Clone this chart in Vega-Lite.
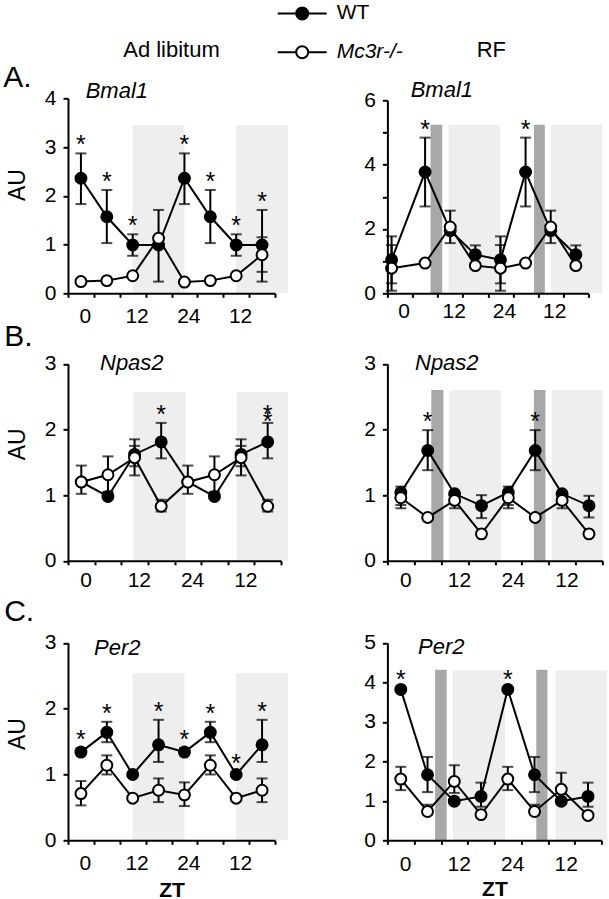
{
  "$schema": "https://vega.github.io/schema/vega-lite/v6.json",
  "padding": {"left": 2, "top": 2.3, "right": 0, "bottom": 0},
  "background": "white",
  "config": {
    "view": {"stroke": null},
    "font": "Liberation Sans",
    "axis": {"grid": false, "domainColor": "black", "domainWidth": 2, "tickColor": "black", "tickWidth": 2, "labelColor": "black", "labelFont": "Liberation Sans", "labelFontSize": 21, "titleColor": "black", "titleFont": "Liberation Sans", "titleFontWeight": "normal", "labelFlush": false, "labelOverlap": false, "labelBound": false, "zindex": 1},
    "axisX": {"tickSize": 4},
    "axisY": {"tickSize": 5, "labelPadding": 7},
    "legend": {"orient": "none", "legendX": 209.7, "legendY": -40.3, "direction": "vertical", "symbolType": "M-4.9,0H-1.2M1.2,0H4.9M-1.2,0A1.2,1.2,0,1,1,1.2,0A1.2,1.2,0,1,1,-1.2,0Z", "symbolSize": 100, "symbolOffset": 14, "symbolStrokeColor": "black", "symbolStrokeWidth": 2, "symbolOpacity": 1, "labelFont": "Liberation Sans", "labelFontSize": 21, "labelColor": "black", "labelOffset": 24, "rowPadding": 16.8, "padding": 0},
    "title": {"font": "Liberation Sans", "color": "black", "fontWeight": "normal"}
  },
  "datasets": {
    "expr": [
      {"panel":"AL","series":"WT","zt":0,"mean":2.36,"lo":1.83,"hi":2.87,"sig":1},
      {"panel":"AL","series":"WT","zt":6,"mean":1.57,"lo":1.03,"hi":2.12,"sig":1},
      {"panel":"AL","series":"WT","zt":12,"mean":0.99,"lo":0.77,"hi":1.21,"sig":1},
      {"panel":"AL","series":"WT","zt":18,"mean":0.99,"lo":0.24,"hi":1.71},
      {"panel":"AL","series":"WT","zt":24,"mean":2.36,"lo":1.83,"hi":2.87,"sig":1},
      {"panel":"AL","series":"WT","zt":30,"mean":1.57,"lo":1.03,"hi":2.12,"sig":1},
      {"panel":"AL","series":"WT","zt":36,"mean":0.99,"lo":0.77,"hi":1.21,"sig":1},
      {"panel":"AL","series":"WT","zt":42,"mean":0.99,"lo":0.24,"hi":1.71,"sig":1},
      {"panel":"AL","series":"Mc3r-/-","zt":0,"mean":0.24},
      {"panel":"AL","series":"Mc3r-/-","zt":6,"mean":0.26},
      {"panel":"AL","series":"Mc3r-/-","zt":12,"mean":0.36},
      {"panel":"AL","series":"Mc3r-/-","zt":18,"mean":1.13},
      {"panel":"AL","series":"Mc3r-/-","zt":24,"mean":0.23},
      {"panel":"AL","series":"Mc3r-/-","zt":30,"mean":0.26},
      {"panel":"AL","series":"Mc3r-/-","zt":36,"mean":0.36},
      {"panel":"AL","series":"Mc3r-/-","zt":42,"mean":0.79,"lo":0.44,"hi":1.15},

      {"panel":"AR","series":"WT","zt":-2,"mean":1.04,"lo":0.31,"hi":1.77},
      {"panel":"AR","series":"WT","zt":6,"mean":3.77,"lo":2.70,"hi":4.84,"sig":1},
      {"panel":"AR","series":"WT","zt":12,"mean":1.95,"lo":1.56,"hi":2.57},
      {"panel":"AR","series":"WT","zt":18,"mean":1.20,"lo":0.88,"hi":1.49},
      {"panel":"AR","series":"WT","zt":24,"mean":1.04,"lo":0.31,"hi":1.77},
      {"panel":"AR","series":"WT","zt":30,"mean":3.77,"lo":2.70,"hi":4.84,"sig":1},
      {"panel":"AR","series":"WT","zt":36,"mean":1.95,"lo":1.56,"hi":2.57},
      {"panel":"AR","series":"WT","zt":42,"mean":1.20,"lo":0.88,"hi":1.49},
      {"panel":"AR","series":"Mc3r-/-","zt":-2,"mean":0.78,"lo":0.08,"hi":1.50},
      {"panel":"AR","series":"Mc3r-/-","zt":6,"mean":0.94},
      {"panel":"AR","series":"Mc3r-/-","zt":12,"mean":2.06},
      {"panel":"AR","series":"Mc3r-/-","zt":18,"mean":0.86},
      {"panel":"AR","series":"Mc3r-/-","zt":24,"mean":0.78,"lo":0.08,"hi":1.50},
      {"panel":"AR","series":"Mc3r-/-","zt":30,"mean":0.94},
      {"panel":"AR","series":"Mc3r-/-","zt":36,"mean":2.06},
      {"panel":"AR","series":"Mc3r-/-","zt":42,"mean":0.86},

      {"panel":"BL","series":"WT","zt":0,"mean":1.20},
      {"panel":"BL","series":"WT","zt":6,"mean":0.98},
      {"panel":"BL","series":"WT","zt":12,"mean":1.62,"lo":1.44,"hi":1.85},
      {"panel":"BL","series":"WT","zt":18,"mean":1.81,"lo":1.56,"hi":2.10,"sig":1},
      {"panel":"BL","series":"WT","zt":24,"mean":1.20},
      {"panel":"BL","series":"WT","zt":30,"mean":0.98},
      {"panel":"BL","series":"WT","zt":36,"mean":1.62,"lo":1.44,"hi":1.85},
      {"panel":"BL","series":"WT","zt":42,"mean":1.81,"lo":1.56,"hi":2.10,"sig":2},
      {"panel":"BL","series":"Mc3r-/-","zt":0,"mean":1.20,"lo":1.02,"hi":1.45},
      {"panel":"BL","series":"Mc3r-/-","zt":6,"mean":1.31,"lo":1.05,"hi":1.59},
      {"panel":"BL","series":"Mc3r-/-","zt":12,"mean":1.57,"lo":1.30,"hi":1.75},
      {"panel":"BL","series":"Mc3r-/-","zt":18,"mean":0.83,"lo":0.75,"hi":0.93},
      {"panel":"BL","series":"Mc3r-/-","zt":24,"mean":1.20,"lo":1.02,"hi":1.45},
      {"panel":"BL","series":"Mc3r-/-","zt":30,"mean":1.31,"lo":1.05,"hi":1.59},
      {"panel":"BL","series":"Mc3r-/-","zt":36,"mean":1.57,"lo":1.30,"hi":1.75},
      {"panel":"BL","series":"Mc3r-/-","zt":42,"mean":0.83,"lo":0.75,"hi":0.93},

      {"panel":"BR","series":"WT","zt":0,"mean":1.04,"lo":0.85,"hi":1.13},
      {"panel":"BR","series":"WT","zt":6,"mean":1.68,"lo":1.38,"hi":1.99,"sig":1},
      {"panel":"BR","series":"WT","zt":12,"mean":1.02},
      {"panel":"BR","series":"WT","zt":18,"mean":0.84,"lo":0.65,"hi":1.00},
      {"panel":"BR","series":"WT","zt":24,"mean":1.04,"lo":0.85,"hi":1.13},
      {"panel":"BR","series":"WT","zt":30,"mean":1.68,"lo":1.38,"hi":1.99,"sig":1},
      {"panel":"BR","series":"WT","zt":36,"mean":1.02},
      {"panel":"BR","series":"WT","zt":42,"mean":0.84,"lo":0.66,"hi":0.99},
      {"panel":"BR","series":"Mc3r-/-","zt":0,"mean":0.96,"lo":0.80,"hi":1.08},
      {"panel":"BR","series":"Mc3r-/-","zt":6,"mean":0.66},
      {"panel":"BR","series":"Mc3r-/-","zt":12,"mean":0.92,"lo":0.80,"hi":1.00},
      {"panel":"BR","series":"Mc3r-/-","zt":18,"mean":0.41},
      {"panel":"BR","series":"Mc3r-/-","zt":24,"mean":0.96,"lo":0.80,"hi":1.08},
      {"panel":"BR","series":"Mc3r-/-","zt":30,"mean":0.66},
      {"panel":"BR","series":"Mc3r-/-","zt":36,"mean":0.92,"lo":0.80,"hi":1.00},
      {"panel":"BR","series":"Mc3r-/-","zt":42,"mean":0.41},

      {"panel":"CL","series":"WT","zt":0,"mean":1.34,"lo":1.30,"hi":1.40,"sig":1},
      {"panel":"CL","series":"WT","zt":6,"mean":1.64,"lo":1.49,"hi":1.80,"sig":1},
      {"panel":"CL","series":"WT","zt":12,"mean":1.00},
      {"panel":"CL","series":"WT","zt":18,"mean":1.45,"lo":1.19,"hi":1.83,"sig":1},
      {"panel":"CL","series":"WT","zt":24,"mean":1.34,"lo":1.30,"hi":1.40,"sig":1},
      {"panel":"CL","series":"WT","zt":30,"mean":1.64,"lo":1.49,"hi":1.80,"sig":1},
      {"panel":"CL","series":"WT","zt":36,"mean":1.00,"lo":0.97,"hi":1.03,"sig":1},
      {"panel":"CL","series":"WT","zt":42,"mean":1.45,"lo":1.19,"hi":1.83,"sig":1},
      {"panel":"CL","series":"Mc3r-/-","zt":0,"mean":0.71,"lo":0.53,"hi":0.90},
      {"panel":"CL","series":"Mc3r-/-","zt":6,"mean":1.14,"lo":1.00,"hi":1.29},
      {"panel":"CL","series":"Mc3r-/-","zt":12,"mean":0.64},
      {"panel":"CL","series":"Mc3r-/-","zt":18,"mean":0.76,"lo":0.58,"hi":0.94},
      {"panel":"CL","series":"Mc3r-/-","zt":24,"mean":0.69,"lo":0.52,"hi":0.88},
      {"panel":"CL","series":"Mc3r-/-","zt":30,"mean":1.14,"lo":1.00,"hi":1.29},
      {"panel":"CL","series":"Mc3r-/-","zt":36,"mean":0.64},
      {"panel":"CL","series":"Mc3r-/-","zt":42,"mean":0.76,"lo":0.58,"hi":0.94},

      {"panel":"CR","series":"WT","zt":0,"mean":3.82,"lo":3.80,"hi":3.85,"sig":1},
      {"panel":"CR","series":"WT","zt":6,"mean":1.66,"lo":1.22,"hi":2.11},
      {"panel":"CR","series":"WT","zt":12,"mean":0.99},
      {"panel":"CR","series":"WT","zt":18,"mean":1.11,"lo":0.85,"hi":1.46},
      {"panel":"CR","series":"WT","zt":24,"mean":3.82,"lo":3.80,"hi":3.85,"sig":1},
      {"panel":"CR","series":"WT","zt":30,"mean":1.66,"lo":1.22,"hi":2.11},
      {"panel":"CR","series":"WT","zt":36,"mean":0.99},
      {"panel":"CR","series":"WT","zt":42,"mean":1.11,"lo":0.85,"hi":1.46},
      {"panel":"CR","series":"Mc3r-/-","zt":0,"mean":1.55,"lo":1.27,"hi":1.86},
      {"panel":"CR","series":"Mc3r-/-","zt":6,"mean":0.73,"lo":0.65,"hi":0.90},
      {"panel":"CR","series":"Mc3r-/-","zt":12,"mean":1.49,"lo":1.20,"hi":1.90},
      {"panel":"CR","series":"Mc3r-/-","zt":18,"mean":0.65},
      {"panel":"CR","series":"Mc3r-/-","zt":24,"mean":1.55,"lo":1.27,"hi":1.86},
      {"panel":"CR","series":"Mc3r-/-","zt":30,"mean":0.73,"lo":0.65,"hi":0.90},
      {"panel":"CR","series":"Mc3r-/-","zt":36,"mean":1.29,"lo":1.00,"hi":1.71},
      {"panel":"CR","series":"Mc3r-/-","zt":42,"mean":0.63}
    ],
    "bands": [
      {"panel":"AL","kind":"light","start":12,"end":24},
      {"panel":"AL","kind":"light","start":36,"end":48},
      {"panel":"AR","kind":"dark","start":7.3,"end":10.1},
      {"panel":"AR","kind":"light","start":11.6,"end":23.9},
      {"panel":"AR","kind":"dark","start":32.0,"end":34.6},
      {"panel":"AR","kind":"light","start":36.0,"end":48.3},
      {"panel":"BL","kind":"light","start":11.7,"end":23.5},
      {"panel":"BL","kind":"light","start":35.0,"end":46.6},
      {"panel":"BR","kind":"dark","start":6.8,"end":9.5},
      {"panel":"BR","kind":"light","start":10.8,"end":22.4},
      {"panel":"BR","kind":"dark","start":29.7,"end":32.3},
      {"panel":"BR","kind":"light","start":33.7,"end":45.0},
      {"panel":"CL","kind":"light","start":12,"end":24},
      {"panel":"CL","kind":"light","start":36,"end":48},
      {"panel":"CR","kind":"dark","start":7.7,"end":10.3},
      {"panel":"CR","kind":"light","start":11.7,"end":23.4},
      {"panel":"CR","kind":"dark","start":30.4,"end":32.9},
      {"panel":"CR","kind":"light","start":34.7,"end":46.3}
    ]
  },
  "concat": [
    {
      "width": 207, "height": 14.4,
      "data": {"values": [{"label": "Ad libitum"}]},
      "mark": {"type": "text", "font": "Liberation Sans", "fontSize": 22, "baseline": "middle", "align": "center", "color": "black"},
      "encoding": {"text": {"field": "label"}}
    },
    {
      "width": 201, "height": 14.4,
      "data": {"values": [{"label": "RF"}]},
      "mark": {"type": "text", "font": "Liberation Sans", "fontSize": 22, "baseline": "middle", "align": "center", "color": "black", "dx": 3.5},
      "encoding": {"text": {"field": "label"}}
    },
    {
      "width": 207, "height": 235,
      "title": {"text": "Bmal1", "anchor": "start", "frame": "group", "offset": 0, "dx": 17.7, "dy": 62, "baseline": "alphabetic", "font": "Liberation Sans", "fontSize": 22, "fontStyle": "italic", "fontWeight": "normal", "color": "black"},
      "resolve": {"axis": {"x": "independent", "y": "independent"}},
      "layer": [
        {"data": {"name": "bands"}, "transform": [{"filter": "datum.panel == 'AL' && datum.kind == 'light'"}],
         "mark": {"type": "rect", "color": "#eeeeee"},
         "encoding": {
           "x": {"field": "start", "type": "quantitative", "scale": {"domain": [-3, 45], "nice": false, "zero": false}, "axis": {"orient": "top", "title": "A.", "domain": false, "ticks": false, "labels": false, "titleX": -65.3, "titleY": 28, "titleAlign": "left", "titleBaseline": "alphabetic", "titleAngle": 0, "titleFontSize": 30, "titleFontWeight": "normal"}},
           "x2": {"field": "end"},
           "y": {"datum": 0, "type": "quantitative", "scale": {"domain": [0, 4], "range": [235, 40], "nice": false, "zero": false}, "axis": null},
           "y2": {"datum": 3.45}
         }},
        {"data": {"name": "expr"}, "transform": [{"filter": "datum.panel == 'AL'"}],
         "mark": {"type": "line", "color": "black", "strokeWidth": 2},
         "encoding": {
           "x": {"field": "zt", "type": "quantitative", "scale": {"domain": [-3, 45], "nice": false, "zero": false}, "axis": {"orient": "bottom", "zindex": 2, "values": [-3,3,9,15,21,27,33,39,45], "labelExpr": "datum.value == 3 ? '0' : datum.value == 15 ? '12' : datum.value == 27 ? '24' : datum.value == 39 ? '12' : ''", "labelOffset": -9, "labelPadding": 8.5, "title": null}},
           "y": {"field": "mean", "type": "quantitative", "scale": {"domain": [0, 4], "range": [235, 40], "nice": false, "zero": false}, "axis": {"orient": "left", "zindex": 2, "values": [0,1,2,3,4], "format": "d", "title": "AU", "titleFontSize": 23, "titlePadding": 15, "titleY": 126.3}},
           "detail": {"field": "series"}
         }},
        {"data": {"name": "expr"}, "transform": [{"filter": "datum.panel == 'AL' && isValid(datum.lo)"}],
         "mark": {"type": "rule", "color": "black", "strokeWidth": 2},
         "encoding": {
           "x": {"field": "zt", "type": "quantitative", "scale": {"domain": [-3, 45], "nice": false, "zero": false}, "axis": null},
           "y": {"field": "lo", "type": "quantitative", "scale": {"domain": [0, 4], "range": [235, 40], "nice": false, "zero": false}, "axis": null},
           "y2": {"field": "hi"}
         }},
        {"data": {"name": "expr"}, "transform": [{"filter": "datum.panel == 'AL' && isValid(datum.lo)"}],
         "mark": {"type": "tick", "orient": "horizontal", "size": 11, "thickness": 2, "color": "black"},
         "encoding": {
           "x": {"field": "zt", "type": "quantitative", "scale": {"domain": [-3, 45], "nice": false, "zero": false}, "axis": null},
           "y": {"field": "lo", "type": "quantitative", "scale": {"domain": [0, 4], "range": [235, 40], "nice": false, "zero": false}, "axis": null}
         }},
        {"data": {"name": "expr"}, "transform": [{"filter": "datum.panel == 'AL' && isValid(datum.hi)"}],
         "mark": {"type": "tick", "orient": "horizontal", "size": 11, "thickness": 2, "color": "black"},
         "encoding": {
           "x": {"field": "zt", "type": "quantitative", "scale": {"domain": [-3, 45], "nice": false, "zero": false}, "axis": null},
           "y": {"field": "hi", "type": "quantitative", "scale": {"domain": [0, 4], "range": [235, 40], "nice": false, "zero": false}, "axis": null}
         }},
        {"data": {"name": "expr"}, "transform": [{"filter": "datum.panel == 'AL'"}],
         "mark": {"type": "point", "shape": "circle", "filled": true, "size": 120, "stroke": "black", "strokeWidth": 2, "opacity": 1},
         "encoding": {
           "x": {"field": "zt", "type": "quantitative", "scale": {"domain": [-3, 45], "nice": false, "zero": false}, "axis": null},
           "y": {"field": "mean", "type": "quantitative", "scale": {"domain": [0, 4], "range": [235, 40], "nice": false, "zero": false}, "axis": null},
           "fill": {"field": "series", "type": "nominal", "scale": {"domain": ["WT", "Mc3r-/-"], "range": ["black", "white"]}, "legend": {"title": null, "rowPadding": 16.8, "labelFontStyle": {"expr": "datum.value == 'WT' ? 'normal' : 'italic'"}}}
         }},
        {"data": {"name": "expr"}, "transform": [{"filter": "datum.panel == 'AL' && datum.sig >= 1"}],
         "mark": {"type": "text", "text": "*", "font": "Liberation Sans", "fontSize": 25, "baseline": "alphabetic", "dy": 0, "color": "black"},
         "encoding": {
           "x": {"field": "zt", "type": "quantitative", "scale": {"domain": [-3, 45], "nice": false, "zero": false}, "axis": null},
           "y": {"field": "hi", "type": "quantitative", "scale": {"domain": [0, 4], "range": [235, 40], "nice": false, "zero": false}, "axis": null}
         }}
      ]
    },
    {
      "width": 201, "height": 235,
      "title": {"text": "Bmal1", "anchor": "start", "frame": "group", "offset": 0, "dx": 23.3, "dy": 60.7, "baseline": "alphabetic", "font": "Liberation Sans", "fontSize": 22, "fontStyle": "italic", "fontWeight": "normal", "color": "black"},
      "resolve": {"axis": {"x": "independent", "y": "independent"}},
      "layer": [
        {"data": {"name": "bands"}, "transform": [{"filter": "datum.panel == 'AR' && datum.kind == 'light'"}],
         "mark": {"type": "rect", "color": "#eeeeee"},
         "encoding": {
           "x": {"field": "start", "type": "quantitative", "scale": {"domain": [-3, 45], "nice": false, "zero": false}, "axis": null},
           "x2": {"field": "end"},
           "y": {"datum": 0, "type": "quantitative", "scale": {"domain": [0, 6], "range": [235, 42], "nice": false, "zero": false}, "axis": null},
           "y2": {"datum": 5.24}
         }},
        {"data": {"name": "bands"}, "transform": [{"filter": "datum.panel == 'AR' && datum.kind == 'dark'"}],
         "mark": {"type": "rect", "color": "#a8a8a8"},
         "encoding": {
           "x": {"field": "start", "type": "quantitative", "scale": {"domain": [-3, 45], "nice": false, "zero": false}, "axis": null},
           "x2": {"field": "end"},
           "y": {"datum": 0, "type": "quantitative", "scale": {"domain": [0, 6], "range": [235, 42], "nice": false, "zero": false}, "axis": null},
           "y2": {"datum": 5.24}
         }},
        {"data": {"name": "expr"}, "transform": [{"filter": "datum.panel == 'AR'"}],
         "mark": {"type": "line", "color": "black", "strokeWidth": 2},
         "encoding": {
           "x": {"field": "zt", "type": "quantitative", "scale": {"domain": [-3, 45], "nice": false, "zero": false}, "axis": {"orient": "bottom", "zindex": 2, "values": [-3,3,9,15,21,27,33,39,45], "labelExpr": "datum.value == 3 ? '0' : datum.value == 15 ? '12' : datum.value == 27 ? '24' : datum.value == 39 ? '12' : ''", "labelOffset": -9, "labelPadding": 3.5, "title": null}},
           "y": {"field": "mean", "type": "quantitative", "scale": {"domain": [0, 6], "range": [235, 42], "nice": false, "zero": false}, "axis": {"orient": "left", "zindex": 2, "values": [0,1,2,3,4,5,6], "format": "d", "labelExpr": "datum.value % 2 == 0 ? datum.label : ''", "title": null}},
           "detail": {"field": "series"}
         }},
        {"data": {"name": "expr"}, "transform": [{"filter": "datum.panel == 'AR' && isValid(datum.lo)"}],
         "mark": {"type": "rule", "color": "black", "strokeWidth": 2},
         "encoding": {
           "x": {"field": "zt", "type": "quantitative", "scale": {"domain": [-3, 45], "nice": false, "zero": false}, "axis": null},
           "y": {"field": "lo", "type": "quantitative", "scale": {"domain": [0, 6], "range": [235, 42], "nice": false, "zero": false}, "axis": null},
           "y2": {"field": "hi"}
         }},
        {"data": {"name": "expr"}, "transform": [{"filter": "datum.panel == 'AR' && isValid(datum.lo)"}],
         "mark": {"type": "tick", "orient": "horizontal", "size": 11, "thickness": 2, "color": "black"},
         "encoding": {
           "x": {"field": "zt", "type": "quantitative", "scale": {"domain": [-3, 45], "nice": false, "zero": false}, "axis": null},
           "y": {"field": "lo", "type": "quantitative", "scale": {"domain": [0, 6], "range": [235, 42], "nice": false, "zero": false}, "axis": null}
         }},
        {"data": {"name": "expr"}, "transform": [{"filter": "datum.panel == 'AR' && isValid(datum.hi)"}],
         "mark": {"type": "tick", "orient": "horizontal", "size": 11, "thickness": 2, "color": "black"},
         "encoding": {
           "x": {"field": "zt", "type": "quantitative", "scale": {"domain": [-3, 45], "nice": false, "zero": false}, "axis": null},
           "y": {"field": "hi", "type": "quantitative", "scale": {"domain": [0, 6], "range": [235, 42], "nice": false, "zero": false}, "axis": null}
         }},
        {"data": {"name": "expr"}, "transform": [{"filter": "datum.panel == 'AR'"}],
         "mark": {"type": "point", "shape": "circle", "filled": true, "size": 120, "stroke": "black", "strokeWidth": 2, "opacity": 1},
         "encoding": {
           "x": {"field": "zt", "type": "quantitative", "scale": {"domain": [-3, 45], "nice": false, "zero": false}, "axis": null},
           "y": {"field": "mean", "type": "quantitative", "scale": {"domain": [0, 6], "range": [235, 42], "nice": false, "zero": false}, "axis": null},
           "fill": {"field": "series", "type": "nominal", "scale": {"domain": ["WT", "Mc3r-/-"], "range": ["black", "white"]}, "legend": {"title": null, "rowPadding": 16.8, "labelFontStyle": {"expr": "datum.value == 'WT' ? 'normal' : 'italic'"}}}
         }},
        {"data": {"name": "expr"}, "transform": [{"filter": "datum.panel == 'AR' && datum.sig >= 1"}],
         "mark": {"type": "text", "text": "*", "font": "Liberation Sans", "fontSize": 25, "baseline": "alphabetic", "dy": 0, "color": "black"},
         "encoding": {
           "x": {"field": "zt", "type": "quantitative", "scale": {"domain": [-3, 45], "nice": false, "zero": false}, "axis": null},
           "y": {"field": "hi", "type": "quantitative", "scale": {"domain": [0, 6], "range": [235, 42], "nice": false, "zero": false}, "axis": null}
         }}
      ]
    },
    {
      "width": 213, "height": 267.5,
      "title": {"text": "Npas2", "anchor": "start", "frame": "group", "offset": 0, "dx": 32, "dy": 98.3, "baseline": "alphabetic", "font": "Liberation Sans", "fontSize": 22, "fontStyle": "italic", "fontWeight": "normal", "color": "black"},
      "resolve": {"axis": {"x": "independent", "y": "independent"}},
      "layer": [
        {"data": {"name": "bands"}, "transform": [{"filter": "datum.panel == 'BL' && datum.kind == 'light'"}],
         "mark": {"type": "rect", "color": "#eeeeee"},
         "encoding": {
           "x": {"field": "start", "type": "quantitative", "scale": {"domain": [-3, 45], "nice": false, "zero": false}, "axis": {"orient": "top", "title": "B.", "domain": false, "ticks": false, "labels": false, "titleX": -64.3, "titleY": 52.5, "titleAlign": "left", "titleBaseline": "alphabetic", "titleAngle": 0, "titleFontSize": 30, "titleFontWeight": "normal"}},
           "x2": {"field": "end"},
           "y": {"datum": 0, "type": "quantitative", "scale": {"domain": [0, 3], "range": [267.5, 70.5], "nice": false, "zero": false}, "axis": null},
           "y2": {"datum": 2.57}
         }},
        {"data": {"name": "expr"}, "transform": [{"filter": "datum.panel == 'BL'"}],
         "mark": {"type": "line", "color": "black", "strokeWidth": 2},
         "encoding": {
           "x": {"field": "zt", "type": "quantitative", "scale": {"domain": [-3, 45], "nice": false, "zero": false}, "axis": {"orient": "bottom", "zindex": 2, "values": [-3,3,9,15,21,27,33,39,45], "labelExpr": "datum.value == 3 ? '0' : datum.value == 15 ? '12' : datum.value == 27 ? '24' : datum.value == 39 ? '12' : ''", "labelOffset": -9, "labelPadding": 4.5, "title": null}},
           "y": {"field": "mean", "type": "quantitative", "scale": {"domain": [0, 3], "range": [267.5, 70.5], "nice": false, "zero": false}, "axis": {"orient": "left", "zindex": 2, "values": [0,1,2,3], "format": "d", "title": "AU", "titleFontSize": 23, "titlePadding": 15, "titleY": 150.5}},
           "detail": {"field": "series"}
         }},
        {"data": {"name": "expr"}, "transform": [{"filter": "datum.panel == 'BL' && isValid(datum.lo)"}],
         "mark": {"type": "rule", "color": "black", "strokeWidth": 2},
         "encoding": {
           "x": {"field": "zt", "type": "quantitative", "scale": {"domain": [-3, 45], "nice": false, "zero": false}, "axis": null},
           "y": {"field": "lo", "type": "quantitative", "scale": {"domain": [0, 3], "range": [267.5, 70.5], "nice": false, "zero": false}, "axis": null},
           "y2": {"field": "hi"}
         }},
        {"data": {"name": "expr"}, "transform": [{"filter": "datum.panel == 'BL' && isValid(datum.lo)"}],
         "mark": {"type": "tick", "orient": "horizontal", "size": 11, "thickness": 2, "color": "black"},
         "encoding": {
           "x": {"field": "zt", "type": "quantitative", "scale": {"domain": [-3, 45], "nice": false, "zero": false}, "axis": null},
           "y": {"field": "lo", "type": "quantitative", "scale": {"domain": [0, 3], "range": [267.5, 70.5], "nice": false, "zero": false}, "axis": null}
         }},
        {"data": {"name": "expr"}, "transform": [{"filter": "datum.panel == 'BL' && isValid(datum.hi)"}],
         "mark": {"type": "tick", "orient": "horizontal", "size": 11, "thickness": 2, "color": "black"},
         "encoding": {
           "x": {"field": "zt", "type": "quantitative", "scale": {"domain": [-3, 45], "nice": false, "zero": false}, "axis": null},
           "y": {"field": "hi", "type": "quantitative", "scale": {"domain": [0, 3], "range": [267.5, 70.5], "nice": false, "zero": false}, "axis": null}
         }},
        {"data": {"name": "expr"}, "transform": [{"filter": "datum.panel == 'BL'"}],
         "mark": {"type": "point", "shape": "circle", "filled": true, "size": 120, "stroke": "black", "strokeWidth": 2, "opacity": 1},
         "encoding": {
           "x": {"field": "zt", "type": "quantitative", "scale": {"domain": [-3, 45], "nice": false, "zero": false}, "axis": null},
           "y": {"field": "mean", "type": "quantitative", "scale": {"domain": [0, 3], "range": [267.5, 70.5], "nice": false, "zero": false}, "axis": null},
           "fill": {"field": "series", "type": "nominal", "scale": {"domain": ["WT", "Mc3r-/-"], "range": ["black", "white"]}, "legend": {"title": null, "rowPadding": 16.8, "labelFontStyle": {"expr": "datum.value == 'WT' ? 'normal' : 'italic'"}}}
         }},
        {"data": {"name": "expr"}, "transform": [{"filter": "datum.panel == 'BL' && datum.sig >= 1"}],
         "mark": {"type": "text", "text": "*", "font": "Liberation Sans", "fontSize": 25, "baseline": "alphabetic", "dy": 0, "color": "black"},
         "encoding": {
           "x": {"field": "zt", "type": "quantitative", "scale": {"domain": [-3, 45], "nice": false, "zero": false}, "axis": null},
           "y": {"field": "hi", "type": "quantitative", "scale": {"domain": [0, 3], "range": [267.5, 70.5], "nice": false, "zero": false}, "axis": null}
         }},
        {"data": {"name": "expr"}, "transform": [{"filter": "datum.panel == 'BL' && datum.sig >= 2"}],
         "mark": {"type": "text", "text": "*", "font": "Liberation Sans", "fontSize": 25, "baseline": "alphabetic", "dy": 7, "color": "black"},
         "encoding": {
           "x": {"field": "zt", "type": "quantitative", "scale": {"domain": [-3, 45], "nice": false, "zero": false}, "axis": null},
           "y": {"field": "hi", "type": "quantitative", "scale": {"domain": [0, 3], "range": [267.5, 70.5], "nice": false, "zero": false}, "axis": null}
         }}
      ]
    },
    {
      "width": 215, "height": 267.5,
      "title": {"text": "Npas2", "anchor": "start", "frame": "group", "offset": 0, "dx": 27.6, "dy": 98.3, "baseline": "alphabetic", "font": "Liberation Sans", "fontSize": 22, "fontStyle": "italic", "fontWeight": "normal", "color": "black"},
      "resolve": {"axis": {"x": "independent", "y": "independent"}},
      "layer": [
        {"data": {"name": "bands"}, "transform": [{"filter": "datum.panel == 'BR' && datum.kind == 'light'"}],
         "mark": {"type": "rect", "color": "#eeeeee"},
         "encoding": {
           "x": {"field": "start", "type": "quantitative", "scale": {"domain": [-3, 45], "nice": false, "zero": false}, "axis": null},
           "x2": {"field": "end"},
           "y": {"datum": 0, "type": "quantitative", "scale": {"domain": [0, 3], "range": [267.5, 70.5], "nice": false, "zero": false}, "axis": null},
           "y2": {"datum": 2.6}
         }},
        {"data": {"name": "bands"}, "transform": [{"filter": "datum.panel == 'BR' && datum.kind == 'dark'"}],
         "mark": {"type": "rect", "color": "#a8a8a8"},
         "encoding": {
           "x": {"field": "start", "type": "quantitative", "scale": {"domain": [-3, 45], "nice": false, "zero": false}, "axis": null},
           "x2": {"field": "end"},
           "y": {"datum": 0, "type": "quantitative", "scale": {"domain": [0, 3], "range": [267.5, 70.5], "nice": false, "zero": false}, "axis": null},
           "y2": {"datum": 2.6}
         }},
        {"data": {"name": "expr"}, "transform": [{"filter": "datum.panel == 'BR'"}],
         "mark": {"type": "line", "color": "black", "strokeWidth": 2},
         "encoding": {
           "x": {"field": "zt", "type": "quantitative", "scale": {"domain": [-3, 45], "nice": false, "zero": false}, "axis": {"orient": "bottom", "zindex": 2, "values": [-3,3,9,15,21,27,33,39,45], "labelExpr": "datum.value == 3 ? '0' : datum.value == 15 ? '12' : datum.value == 27 ? '24' : datum.value == 39 ? '12' : ''", "labelOffset": -9, "labelPadding": 4.5, "title": null}},
           "y": {"field": "mean", "type": "quantitative", "scale": {"domain": [0, 3], "range": [267.5, 70.5], "nice": false, "zero": false}, "axis": {"orient": "left", "zindex": 2, "values": [0,1,2,3], "format": "d", "title": null}},
           "detail": {"field": "series"}
         }},
        {"data": {"name": "expr"}, "transform": [{"filter": "datum.panel == 'BR' && isValid(datum.lo)"}],
         "mark": {"type": "rule", "color": "black", "strokeWidth": 2},
         "encoding": {
           "x": {"field": "zt", "type": "quantitative", "scale": {"domain": [-3, 45], "nice": false, "zero": false}, "axis": null},
           "y": {"field": "lo", "type": "quantitative", "scale": {"domain": [0, 3], "range": [267.5, 70.5], "nice": false, "zero": false}, "axis": null},
           "y2": {"field": "hi"}
         }},
        {"data": {"name": "expr"}, "transform": [{"filter": "datum.panel == 'BR' && isValid(datum.lo)"}],
         "mark": {"type": "tick", "orient": "horizontal", "size": 11, "thickness": 2, "color": "black"},
         "encoding": {
           "x": {"field": "zt", "type": "quantitative", "scale": {"domain": [-3, 45], "nice": false, "zero": false}, "axis": null},
           "y": {"field": "lo", "type": "quantitative", "scale": {"domain": [0, 3], "range": [267.5, 70.5], "nice": false, "zero": false}, "axis": null}
         }},
        {"data": {"name": "expr"}, "transform": [{"filter": "datum.panel == 'BR' && isValid(datum.hi)"}],
         "mark": {"type": "tick", "orient": "horizontal", "size": 11, "thickness": 2, "color": "black"},
         "encoding": {
           "x": {"field": "zt", "type": "quantitative", "scale": {"domain": [-3, 45], "nice": false, "zero": false}, "axis": null},
           "y": {"field": "hi", "type": "quantitative", "scale": {"domain": [0, 3], "range": [267.5, 70.5], "nice": false, "zero": false}, "axis": null}
         }},
        {"data": {"name": "expr"}, "transform": [{"filter": "datum.panel == 'BR'"}],
         "mark": {"type": "point", "shape": "circle", "filled": true, "size": 120, "stroke": "black", "strokeWidth": 2, "opacity": 1},
         "encoding": {
           "x": {"field": "zt", "type": "quantitative", "scale": {"domain": [-3, 45], "nice": false, "zero": false}, "axis": null},
           "y": {"field": "mean", "type": "quantitative", "scale": {"domain": [0, 3], "range": [267.5, 70.5], "nice": false, "zero": false}, "axis": null},
           "fill": {"field": "series", "type": "nominal", "scale": {"domain": ["WT", "Mc3r-/-"], "range": ["black", "white"]}, "legend": {"title": null, "rowPadding": 16.8, "labelFontStyle": {"expr": "datum.value == 'WT' ? 'normal' : 'italic'"}}}
         }},
        {"data": {"name": "expr"}, "transform": [{"filter": "datum.panel == 'BR' && datum.sig >= 1"}],
         "mark": {"type": "text", "text": "*", "font": "Liberation Sans", "fontSize": 25, "baseline": "alphabetic", "dy": 0, "color": "black"},
         "encoding": {
           "x": {"field": "zt", "type": "quantitative", "scale": {"domain": [-3, 45], "nice": false, "zero": false}, "axis": null},
           "y": {"field": "hi", "type": "quantitative", "scale": {"domain": [0, 3], "range": [267.5, 70.5], "nice": false, "zero": false}, "axis": null}
         }}
      ]
    },
    {
      "width": 207, "height": 279,
      "title": {"text": "Per2", "anchor": "start", "frame": "group", "offset": 0, "dx": 26, "dy": 115.5, "baseline": "alphabetic", "font": "Liberation Sans", "fontSize": 22, "fontStyle": "italic", "fontWeight": "normal", "color": "black"},
      "resolve": {"axis": {"x": "independent", "y": "independent"}},
      "layer": [
        {"data": {"name": "bands"}, "transform": [{"filter": "datum.panel == 'CL' && datum.kind == 'light'"}],
         "mark": {"type": "rect", "color": "#eeeeee"},
         "encoding": {
           "x": {"field": "start", "type": "quantitative", "scale": {"domain": [-3, 45], "nice": false, "zero": false}, "axis": {"orient": "top", "title": "C.", "domain": false, "ticks": false, "labels": false, "titleX": -64.3, "titleY": 59.7, "titleAlign": "left", "titleBaseline": "alphabetic", "titleAngle": 0, "titleFontSize": 30, "titleFontWeight": "normal"}},
           "x2": {"field": "end"},
           "y": {"datum": 0, "type": "quantitative", "scale": {"domain": [0, 3], "range": [279, 81.5], "nice": false, "zero": false}, "axis": null},
           "y2": {"datum": 2.54}
         }},
        {"data": {"name": "expr"}, "transform": [{"filter": "datum.panel == 'CL'"}],
         "mark": {"type": "line", "color": "black", "strokeWidth": 2},
         "encoding": {
           "x": {"field": "zt", "type": "quantitative", "scale": {"domain": [-3, 45], "nice": false, "zero": false}, "axis": {"orient": "bottom", "zindex": 2, "values": [-3,3,9,15,21,27,33,39,45], "labelExpr": "datum.value == 3 ? '0' : datum.value == 15 ? '12' : datum.value == 27 ? '24' : datum.value == 39 ? '12' : ''", "labelOffset": -9, "labelPadding": 7.8, "title": "ZT", "titleFontWeight": "bold", "titleFontSize": 21, "titlePadding": 6}},
           "y": {"field": "mean", "type": "quantitative", "scale": {"domain": [0, 3], "range": [279, 81.5], "nice": false, "zero": false}, "axis": {"orient": "left", "zindex": 2, "values": [0,1,2,3], "format": "d", "title": "AU", "titleFontSize": 23, "titlePadding": 15, "titleY": 172.2}},
           "detail": {"field": "series"}
         }},
        {"data": {"name": "expr"}, "transform": [{"filter": "datum.panel == 'CL' && isValid(datum.lo)"}],
         "mark": {"type": "rule", "color": "black", "strokeWidth": 2},
         "encoding": {
           "x": {"field": "zt", "type": "quantitative", "scale": {"domain": [-3, 45], "nice": false, "zero": false}, "axis": null},
           "y": {"field": "lo", "type": "quantitative", "scale": {"domain": [0, 3], "range": [279, 81.5], "nice": false, "zero": false}, "axis": null},
           "y2": {"field": "hi"}
         }},
        {"data": {"name": "expr"}, "transform": [{"filter": "datum.panel == 'CL' && isValid(datum.lo)"}],
         "mark": {"type": "tick", "orient": "horizontal", "size": 11, "thickness": 2, "color": "black"},
         "encoding": {
           "x": {"field": "zt", "type": "quantitative", "scale": {"domain": [-3, 45], "nice": false, "zero": false}, "axis": null},
           "y": {"field": "lo", "type": "quantitative", "scale": {"domain": [0, 3], "range": [279, 81.5], "nice": false, "zero": false}, "axis": null}
         }},
        {"data": {"name": "expr"}, "transform": [{"filter": "datum.panel == 'CL' && isValid(datum.hi)"}],
         "mark": {"type": "tick", "orient": "horizontal", "size": 11, "thickness": 2, "color": "black"},
         "encoding": {
           "x": {"field": "zt", "type": "quantitative", "scale": {"domain": [-3, 45], "nice": false, "zero": false}, "axis": null},
           "y": {"field": "hi", "type": "quantitative", "scale": {"domain": [0, 3], "range": [279, 81.5], "nice": false, "zero": false}, "axis": null}
         }},
        {"data": {"name": "expr"}, "transform": [{"filter": "datum.panel == 'CL'"}],
         "mark": {"type": "point", "shape": "circle", "filled": true, "size": 120, "stroke": "black", "strokeWidth": 2, "opacity": 1},
         "encoding": {
           "x": {"field": "zt", "type": "quantitative", "scale": {"domain": [-3, 45], "nice": false, "zero": false}, "axis": null},
           "y": {"field": "mean", "type": "quantitative", "scale": {"domain": [0, 3], "range": [279, 81.5], "nice": false, "zero": false}, "axis": null},
           "fill": {"field": "series", "type": "nominal", "scale": {"domain": ["WT", "Mc3r-/-"], "range": ["black", "white"]}, "legend": {"title": null, "rowPadding": 16.8, "labelFontStyle": {"expr": "datum.value == 'WT' ? 'normal' : 'italic'"}}}
         }},
        {"data": {"name": "expr"}, "transform": [{"filter": "datum.panel == 'CL' && datum.sig >= 1"}],
         "mark": {"type": "text", "text": "*", "font": "Liberation Sans", "fontSize": 25, "baseline": "alphabetic", "dy": 0, "color": "black"},
         "encoding": {
           "x": {"field": "zt", "type": "quantitative", "scale": {"domain": [-3, 45], "nice": false, "zero": false}, "axis": null},
           "y": {"field": "hi", "type": "quantitative", "scale": {"domain": [0, 3], "range": [279, 81.5], "nice": false, "zero": false}, "axis": null}
         }}
      ]
    },
    {
      "width": 214, "height": 279,
      "title": {"text": "Per2", "anchor": "start", "frame": "group", "offset": 0, "dx": 30.6, "dy": 114.8, "baseline": "alphabetic", "font": "Liberation Sans", "fontSize": 22, "fontStyle": "italic", "fontWeight": "normal", "color": "black"},
      "resolve": {"axis": {"x": "independent", "y": "independent"}},
      "layer": [
        {"data": {"name": "bands"}, "transform": [{"filter": "datum.panel == 'CR' && datum.kind == 'light'"}],
         "mark": {"type": "rect", "color": "#eeeeee"},
         "encoding": {
           "x": {"field": "start", "type": "quantitative", "scale": {"domain": [-3, 45], "nice": false, "zero": false}, "axis": null},
           "x2": {"field": "end"},
           "y": {"datum": 0, "type": "quantitative", "scale": {"domain": [0, 5], "range": [279, 81.5], "nice": false, "zero": false}, "axis": null},
           "y2": {"datum": 4.3}
         }},
        {"data": {"name": "bands"}, "transform": [{"filter": "datum.panel == 'CR' && datum.kind == 'dark'"}],
         "mark": {"type": "rect", "color": "#a8a8a8"},
         "encoding": {
           "x": {"field": "start", "type": "quantitative", "scale": {"domain": [-3, 45], "nice": false, "zero": false}, "axis": null},
           "x2": {"field": "end"},
           "y": {"datum": 0, "type": "quantitative", "scale": {"domain": [0, 5], "range": [279, 81.5], "nice": false, "zero": false}, "axis": null},
           "y2": {"datum": 4.32}
         }},
        {"data": {"name": "expr"}, "transform": [{"filter": "datum.panel == 'CR'"}],
         "mark": {"type": "line", "color": "black", "strokeWidth": 2},
         "encoding": {
           "x": {"field": "zt", "type": "quantitative", "scale": {"domain": [-3, 45], "nice": false, "zero": false}, "axis": {"orient": "bottom", "zindex": 2, "values": [-3,3,9,15,21,27,33,39,45], "labelExpr": "datum.value == 3 ? '0' : datum.value == 15 ? '12' : datum.value == 27 ? '24' : datum.value == 39 ? '12' : ''", "labelOffset": -9, "labelPadding": 9.5, "title": "ZT", "titleFontWeight": "bold", "titleFontSize": 21, "titlePadding": 4}},
           "y": {"field": "mean", "type": "quantitative", "scale": {"domain": [0, 5], "range": [279, 81.5], "nice": false, "zero": false}, "axis": {"orient": "left", "zindex": 2, "values": [0,1,2,3,4,5], "format": "d", "title": null}},
           "detail": {"field": "series"}
         }},
        {"data": {"name": "expr"}, "transform": [{"filter": "datum.panel == 'CR' && isValid(datum.lo)"}],
         "mark": {"type": "rule", "color": "black", "strokeWidth": 2},
         "encoding": {
           "x": {"field": "zt", "type": "quantitative", "scale": {"domain": [-3, 45], "nice": false, "zero": false}, "axis": null},
           "y": {"field": "lo", "type": "quantitative", "scale": {"domain": [0, 5], "range": [279, 81.5], "nice": false, "zero": false}, "axis": null},
           "y2": {"field": "hi"}
         }},
        {"data": {"name": "expr"}, "transform": [{"filter": "datum.panel == 'CR' && isValid(datum.lo)"}],
         "mark": {"type": "tick", "orient": "horizontal", "size": 11, "thickness": 2, "color": "black"},
         "encoding": {
           "x": {"field": "zt", "type": "quantitative", "scale": {"domain": [-3, 45], "nice": false, "zero": false}, "axis": null},
           "y": {"field": "lo", "type": "quantitative", "scale": {"domain": [0, 5], "range": [279, 81.5], "nice": false, "zero": false}, "axis": null}
         }},
        {"data": {"name": "expr"}, "transform": [{"filter": "datum.panel == 'CR' && isValid(datum.hi)"}],
         "mark": {"type": "tick", "orient": "horizontal", "size": 11, "thickness": 2, "color": "black"},
         "encoding": {
           "x": {"field": "zt", "type": "quantitative", "scale": {"domain": [-3, 45], "nice": false, "zero": false}, "axis": null},
           "y": {"field": "hi", "type": "quantitative", "scale": {"domain": [0, 5], "range": [279, 81.5], "nice": false, "zero": false}, "axis": null}
         }},
        {"data": {"name": "expr"}, "transform": [{"filter": "datum.panel == 'CR'"}],
         "mark": {"type": "point", "shape": "circle", "filled": true, "size": 120, "stroke": "black", "strokeWidth": 2, "opacity": 1},
         "encoding": {
           "x": {"field": "zt", "type": "quantitative", "scale": {"domain": [-3, 45], "nice": false, "zero": false}, "axis": null},
           "y": {"field": "mean", "type": "quantitative", "scale": {"domain": [0, 5], "range": [279, 81.5], "nice": false, "zero": false}, "axis": null},
           "fill": {"field": "series", "type": "nominal", "scale": {"domain": ["WT", "Mc3r-/-"], "range": ["black", "white"]}, "legend": {"title": null, "rowPadding": 16.8, "labelFontStyle": {"expr": "datum.value == 'WT' ? 'normal' : 'italic'"}}}
         }},
        {"data": {"name": "expr"}, "transform": [{"filter": "datum.panel == 'CR' && datum.sig >= 1"}],
         "mark": {"type": "text", "text": "*", "font": "Liberation Sans", "fontSize": 25, "baseline": "alphabetic", "dy": 0, "color": "black"},
         "encoding": {
           "x": {"field": "zt", "type": "quantitative", "scale": {"domain": [-3, 45], "nice": false, "zero": false}, "axis": null},
           "y": {"field": "hi", "type": "quantitative", "scale": {"domain": [0, 5], "range": [279, 81.5], "nice": false, "zero": false}, "axis": null}
         }}
      ]
    }
  ],
  "columns": 2,
  "spacing": {"row": 0, "column": 106.4},
  "bounds": "flush",
  "align": "each",
  "resolve": {"scale": {"fill": "shared"}, "legend": {"fill": "shared"}}
}
